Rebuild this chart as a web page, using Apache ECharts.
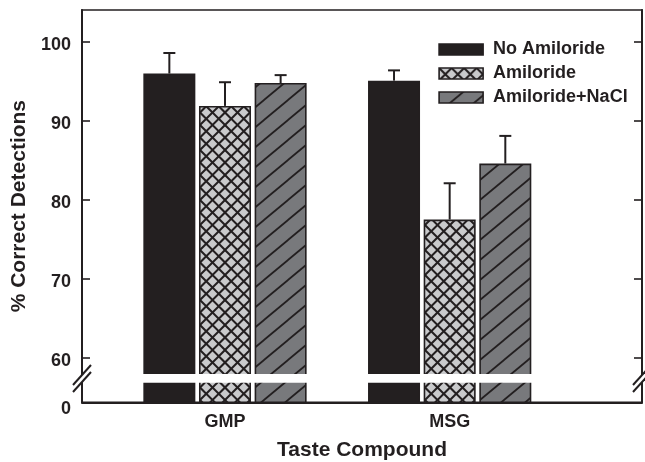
<!DOCTYPE html>
<html>
<head>
<meta charset="utf-8">
<script src="https://cdn.jsdelivr.net/npm/echarts@6/dist/echarts.min.js"></script>
<style>
html,body{margin:0;padding:0;background:#fff;}
#chart{width:645px;height:462px;}
</style>
</head>
<body>
<div id="chart"></div>
<script>
// ---- data ----
const CATEGORIES = ['GMP', 'MSG'];
const CAT_POS = [1, 2];
const SERIES_NAMES = ['No Amiloride', 'Amiloride', 'Amiloride+NaCl'];
const NO_AMILORIDE = [96.0, 95.1];
const AMILORIDE = [91.9, 77.5];
const AMILORIDE_NACL = [94.8, 84.6];
const ERR_NO_AMILORIDE = [2.6, 1.3];
const ERR_AMILORIDE = [3.0, 4.6];
const ERR_AMILORIDE_NACL = [1.0, 3.5];
const Y_TICKS = [60, 70, 80, 90, 100];
const Y_TICK_LABELS = ['60', '70', '80', '90', '100'];
const Y_ZERO_LABEL = '0';
const X_TITLE = 'Taste Compound';
const Y_TITLE = '% Correct Detections';

// ---- layout / style constants ----
const Y_MIN = 54.35, Y_MAX = 104.05;      // broken axis: bottom edge shows "0"
const X_MIN = 0.3636, X_MAX = 2.856;
const BAND_HI = 57.93, BAND_LO = 56.83;    // white break band
const SLASH_UP = 57.81, SLASH_LO = 56.92;  // axis break slashes
const BAR_W = 52, GAP_PCT = 0.07, BAR_GAP = BAR_W * GAP_PCT;
const CAP = 12;
const INK = '#231f20';
const FONT = '"Liberation Sans", Arial, sans-serif';

function makeCross() {
  const c = document.createElement('canvas');
  c.width = 25; c.height = 25;
  const g = c.getContext('2d');
  g.fillStyle = '#c9cacc'; g.fillRect(0, 0, 25, 25);
  g.strokeStyle = INK; g.lineWidth = 2;
  for (let k = -4; k <= 4; k++) {
    const c0 = k * 12.5;
    g.beginPath(); g.moveTo(-5, -5 - c0); g.lineTo(30, 30 - c0); g.stroke();
    g.beginPath(); g.moveTo(-5, c0 + 5); g.lineTo(30, c0 - 30); g.stroke();
  }
  return c;
}
function makeHatch() {
  const W = 24, H = 20, s = H / W;
  const c = document.createElement('canvas');
  c.width = W; c.height = H;
  const g = c.getContext('2d');
  g.fillStyle = '#78797c'; g.fillRect(0, 0, W, H);
  g.strokeStyle = INK; g.lineWidth = 1.8;
  [0, H, 2 * H].forEach(cc => {
    g.beginPath(); g.moveTo(-2, cc + 2 * s); g.lineTo(W + 2, cc - (W + 2) * s); g.stroke();
  });
  return c;
}
const FILLS = [
  INK,
  { image: makeCross(), repeat: 'repeat' },
  { image: makeHatch(), repeat: 'repeat' }
];
const VALUES = [NO_AMILORIDE, AMILORIDE, AMILORIDE_NACL];
const ERRORS = [ERR_NO_AMILORIDE, ERR_AMILORIDE, ERR_AMILORIDE_NACL];

const chart = echarts.init(document.getElementById('chart'));

const barSeries = SERIES_NAMES.map((name, s) => ({
  name, type: 'bar',
  data: CAT_POS.map((x, i) => [x, VALUES[s][i]]),
  barWidth: BAR_W, barGap: (GAP_PCT * 100) + '%',
  itemStyle: { color: FILLS[s], borderColor: INK, borderWidth: 1.6 },
  clip: true, z: 2, silent: true
}));

const errData = [];
SERIES_NAMES.forEach((n, s) => CAT_POS.forEach((x, i) => errData.push([x, VALUES[s][i], ERRORS[s][i], s])));

const errSeries = {
  type: 'custom', data: errData, encode: { x: 0, y: 1 }, z: 4, silent: true,
  renderItem(params, api) {
    const x = api.value(0), v = api.value(1), e = api.value(2), s = api.value(3);
    const off = (s - 1) * (BAR_W + BAR_GAP);
    const b = api.coord([x, v]), t = api.coord([x, v + e]);
    const cx = b[0] + off;
    return { type: 'group', children: [
      { type: 'line', shape: { x1: cx, y1: b[1], x2: cx, y2: t[1] }, style: { stroke: INK, lineWidth: 2 } },
      { type: 'line', shape: { x1: cx - CAP / 2, y1: t[1], x2: cx + CAP / 2, y2: t[1] }, style: { stroke: INK, lineWidth: 2 } }
    ]};
  }
};

const bandSeries = {
  type: 'custom', data: CAT_POS.map(x => [x, BAND_HI]), encode: { x: 0, y: 1 }, z: 3, silent: true,
  renderItem(params, api) {
    const x = api.value(0);
    const a = api.coord([x, BAND_HI]), b = api.coord([x, BAND_LO]);
    const half = (3 * BAR_W + 2 * BAR_GAP) / 2 + 1;
    return { type: 'rect', shape: { x: a[0] - half, y: a[1], width: 2 * half, height: b[1] - a[1] }, style: { fill: '#fff' } };
  }
};

const slashSeries = {
  type: 'custom', data: [[X_MIN, SLASH_UP], [X_MAX, SLASH_UP]], encode: { x: 0, y: 1 }, z: 5, silent: true, clip: false,
  renderItem(params, api) {
    const x = api.value(0);
    const a = api.coord([x, SLASH_UP]), b = api.coord([x, SLASH_LO]);
    const mk = (p) => ({ type: 'line', shape: { x1: p[0] - 9, y1: p[1] + 10, x2: p[0] + 9, y2: p[1] - 10 }, style: { stroke: INK, lineWidth: 2 } });
    return { type: 'group', children: [
      { type: 'rect', shape: { x: a[0] - 3, y: a[1], width: 6, height: b[1] - a[1] }, style: { fill: '#fff' } },
      mk(a), mk(b)
    ]};
  }
};

const yLabel = v => (v < Y_TICKS[0] ? '{z|' + Y_ZERO_LABEL + '}' : Y_TICK_LABELS[Y_TICKS.indexOf(Math.round(v))]);

const yAxisBase = {
  type: 'value', min: Y_MIN, max: Y_MAX,
  splitLine: { show: false },
  axisLine: { show: true, lineStyle: { color: INK, width: 2 } },
  axisTick: { show: true, inside: true, length: 8, customValues: Y_TICKS, lineStyle: { color: INK, width: 1.6 } }
};

chart.setOption({
  animation: false,
  textStyle: { fontFamily: FONT },
  grid: { left: 82, right: 3, top: 10, bottom: 59.7, containLabel: false, outerBoundsMode: 'none',
          show: true, borderColor: INK, borderWidth: 1.6, backgroundColor: 'transparent' },
  legend: {
    orient: 'vertical', left: 438.3, top: 40.5, padding: 0,
    itemWidth: 44, itemHeight: 11, itemGap: 6, selectedMode: false,
    textStyle: { fontFamily: FONT, fontWeight: 'bold', fontSize: 18, color: INK, lineHeight: 13, padding: [0, 0, 0, 5] },
    data: SERIES_NAMES.map((n, s) => ({ name: n, icon: 'rect', itemStyle: { color: FILLS[s], borderColor: INK, borderWidth: 1.6 } }))
  },
  xAxis: {
    type: 'value', min: X_MIN, max: X_MAX,
    name: X_TITLE, nameLocation: 'middle', nameGap: 37,
    nameTextStyle: { fontFamily: FONT, fontWeight: 'bold', fontSize: 21, color: INK },
    splitLine: { show: false },
    axisTick: { show: false },
    axisLine: { show: true, lineStyle: { color: INK, width: 2 } },
    axisLabel: { customValues: CAT_POS, formatter: v => CATEGORIES[CAT_POS.indexOf(Math.round(v))],
                 fontFamily: FONT, fontWeight: 'bold', fontSize: 18, color: INK, margin: 11 }
  },
  yAxis: [
    Object.assign({}, yAxisBase, {
      position: 'left',
      name: Y_TITLE, nameLocation: 'middle', nameGap: 44, nameRotate: 90,
      nameTextStyle: { fontFamily: FONT, fontWeight: 'bold', fontSize: 21, color: INK },
      axisLabel: { customValues: [Y_MIN].concat(Y_TICKS), formatter: yLabel,
                   fontFamily: FONT, fontWeight: 'bold', fontSize: 18, color: INK, margin: 11, padding: [6, 0, 0, 0],
                   rich: { z: { fontFamily: FONT, fontWeight: 'bold', fontSize: 18, color: INK, padding: [8, 0, 0, 0] } } }
    }),
    Object.assign({}, yAxisBase, { position: 'right', axisLabel: { show: false } })
  ],
  series: barSeries.concat([bandSeries, errSeries, slashSeries])
});
</script>
</body>
</html>
